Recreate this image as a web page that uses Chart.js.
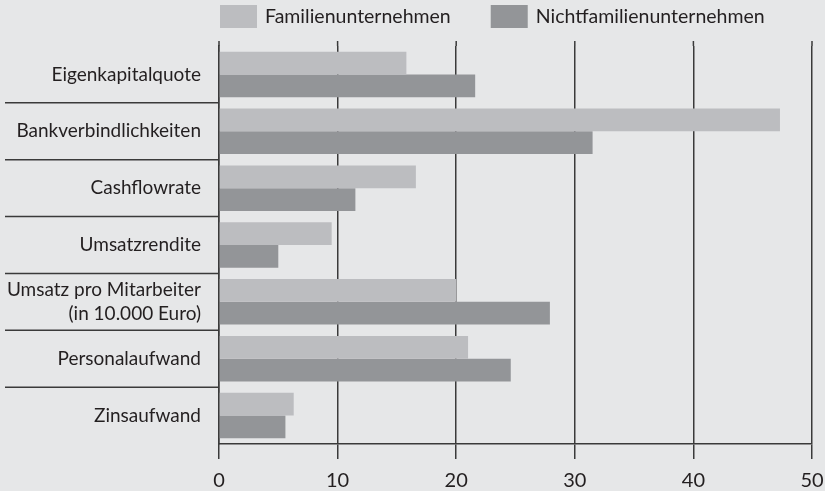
<!DOCTYPE html>
<html>
<head>
<meta charset="utf-8">
<script src="https://cdn.jsdelivr.net/npm/chart.js@4"></script>
<style>
  html, body { margin: 0; padding: 0; background: #e6e7e8; }
  #wrap { width: 825px; height: 491px; }
</style>
</head>
<body>
<div id="wrap"><canvas id="barChart" width="825" height="491"></canvas></div>
<script>
const categories = [
  'Eigenkapitalquote',
  'Bankverbindlichkeiten',
  'Cashflowrate',
  'Umsatzrendite',
  ['Umsatz pro Mitarbeiter', '(in 10.000 Euro)'],
  'Personalaufwand',
  'Zinsaufwand'
];
const familien = [15.8, 47.3, 16.6, 9.5, 20.0, 21.0, 6.3];
const nichtFamilien = [21.6, 31.5, 11.5, 5.0, 27.9, 24.6, 5.6];
const seriesNames = ['Familienunternehmen', 'Nichtfamilienunternehmen'];
const xTicks = [0, 10, 20, 30, 40, 50];

const lightGray = '#bcbdc0';
const darkGray = '#939598';
const lineColor = '#3a3a3a';
const textColor = '#231f20';

Chart.defaults.font.family = 'Lato';
Chart.defaults.font.size = 19;
Chart.defaults.color = textColor;

// separators left of the axis, grid stubs above the plot, and the legend
const extras = {
  id: 'extras',
  afterDraw(chart) {
    const ctx = chart.ctx;
    const area = chart.chartArea;
    const xs = chart.scales.x;
    const ys = chart.scales.y;
    ctx.save();
    ctx.strokeStyle = lineColor;
    ctx.lineWidth = 1.5;
    for (let i = 0; i < categories.length - 1; i++) {
      const py = (ys.getPixelForValue(i) + ys.getPixelForValue(i + 1)) / 2;
      ctx.beginPath();
      ctx.moveTo(5, py);
      ctx.lineTo(area.left, py);
      ctx.stroke();
    }
    xTicks.forEach(v => {
      const px = xs.getPixelForValue(v);
      ctx.beginPath();
      ctx.moveTo(px, area.top - 5);
      ctx.lineTo(px, area.top);
      ctx.stroke();
    });

    let lx = 220;
    ctx.font = '19.5px Lato';
    ctx.textBaseline = 'middle';
    chart.data.datasets.forEach(ds => {
      ctx.fillStyle = ds.backgroundColor;
      ctx.fillRect(lx, 5, 37, 23);
      ctx.fillStyle = textColor;
      ctx.fillText(ds.label, lx + 45, 17);
      lx += 45 + ctx.measureText(ds.label).width + 40;
    });
    ctx.restore();
  }
};

new Chart(document.getElementById('barChart').getContext('2d'), {
  type: 'bar',
  data: {
    labels: categories,
    datasets: [
      { label: seriesNames[0], data: familien, backgroundColor: lightGray },
      { label: seriesNames[1], data: nichtFamilien, backgroundColor: darkGray }
    ]
  },
  options: {
    indexAxis: 'y',
    responsive: false,
    animation: false,
    categoryPercentage: 0.8,
    barPercentage: 1.0,
    layout: { padding: { top: 46, right: 13, left: 0, bottom: 0 } },
    plugins: {
      legend: { display: false },
      tooltip: { enabled: false }
    },
    scales: {
      x: {
        min: 0,
        max: 50,
        afterBuildTicks: s => { s.ticks = xTicks.map(v => ({ value: v })); },
        afterFit: s => { s.height = 47; s.paddingLeft = 0; s.paddingRight = 0; },
        grid: { color: lineColor, lineWidth: 1.5, tickLength: 15 },
        border: { display: true, color: lineColor, width: 1.5 },
        ticks: { padding: 10, color: textColor, font: { size: 20 } }
      },
      y: {
        afterFit: s => { s.width = 219; },
        grid: { display: false, drawTicks: false },
        border: { display: true, color: lineColor, width: 1.5 },
        ticks: { padding: 18, color: textColor, font: { lineHeight: 1.25 } }
      }
    }
  },
  plugins: [extras]
});
</script>
</body>
</html>
